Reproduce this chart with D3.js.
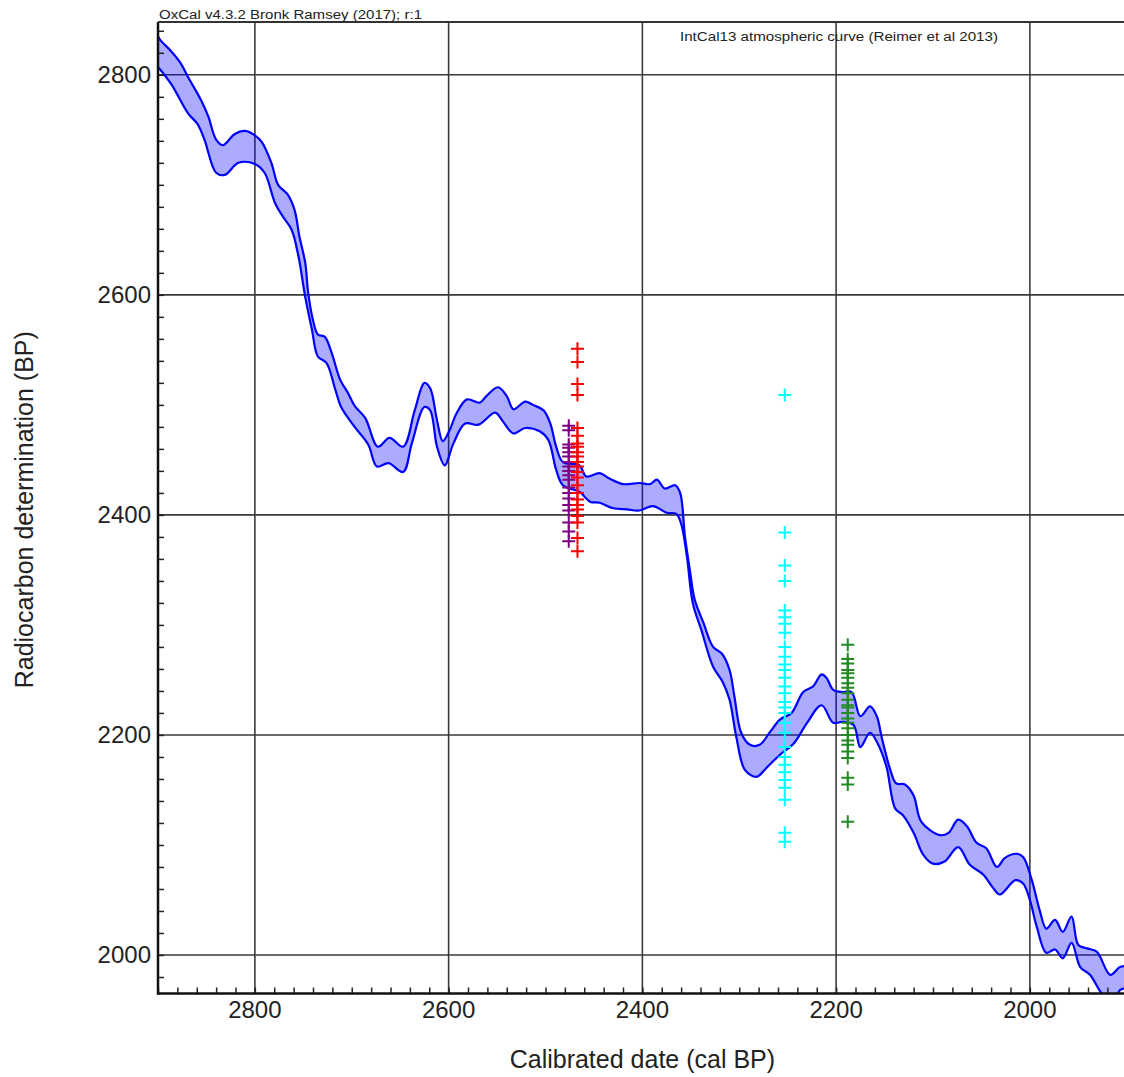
<!DOCTYPE html>
<html>
<head>
<meta charset="utf-8">
<script src="https://cdn.jsdelivr.net/npm/d3@7"></script>
<style>
  body { margin: 0; background: #fff; }
  text { font-family: "Liberation Sans", Arial, sans-serif; fill: #222; }
</style>
</head>
<body>
<div id="wrapper"></div>
<script>
// calibration curve, upper and lower edge of the 1 sigma band: [cal BP, 14C BP]
const upperEdge = [[2900,2835],[2898,2832],[2886,2821],[2877,2811],[2869,2798],[2855,2776],[2848,2762],[2840,2741],[2833,2736],[2821,2746],[2810,2749],[2800,2745],[2793,2739],[2783,2720],[2776,2700],[2766,2691],[2759,2677],[2754,2653],[2748,2629],[2745,2602],[2740,2577],[2735,2564],[2728,2562],[2721,2548],[2712,2523],[2704,2511],[2697,2499],[2686,2488],[2673,2462],[2661,2470],[2647,2462],[2635,2495],[2625,2520],[2619,2515],[2612,2486],[2606,2467],[2599,2477],[2592,2492],[2581,2505],[2568,2502],[2561,2508],[2549,2516],[2540,2508],[2533,2496],[2521,2503],[2513,2500],[2502,2495],[2495,2483],[2489,2462],[2482,2448],[2465,2445],[2458,2435],[2444,2438],[2434,2433],[2420,2428],[2403,2429],[2392,2428],[2385,2432],[2377,2424],[2366,2427],[2361,2420],[2356,2380],[2351,2350],[2346,2323],[2337,2302],[2327,2280],[2318,2274],[2310,2259],[2305,2235],[2298,2202],[2289,2191],[2279,2191],[2268,2203],[2258,2214],[2246,2220],[2234,2239],[2224,2244],[2215,2255],[2210,2252],[2203,2241],[2193,2239],[2184,2239],[2175,2217],[2165,2226],[2158,2217],[2153,2198],[2144,2168],[2138,2156],[2129,2155],[2120,2145],[2112,2121],[2093,2109],[2084,2111],[2074,2123],[2065,2117],[2055,2102],[2045,2097],[2034,2080],[2026,2088],[2014,2092],[2007,2089],[1998,2068],[1990,2041],[1983,2024],[1974,2032],[1966,2021],[1957,2035],[1950,2009],[1941,2006],[1931,2003],[1917,1982],[1907,1989],[1900,1990]];

const lowerEdge = [[2900,2807],[2898,2805],[2886,2791],[2869,2765],[2859,2755],[2852,2741],[2840,2711],[2831,2709],[2817,2720],[2800,2719],[2790,2711],[2779,2683],[2771,2671],[2762,2659],[2755,2635],[2748,2598],[2741,2568],[2735,2544],[2726,2538],[2717,2514],[2711,2498],[2697,2480],[2683,2464],[2674,2444],[2662,2447],[2647,2439],[2638,2465],[2625,2498],[2619,2495],[2612,2462],[2604,2445],[2595,2465],[2583,2483],[2569,2482],[2552,2493],[2544,2485],[2533,2474],[2521,2479],[2506,2476],[2497,2468],[2489,2441],[2482,2427],[2465,2421],[2454,2412],[2444,2411],[2430,2406],[2416,2405],[2403,2404],[2389,2408],[2375,2402],[2365,2401],[2360,2392],[2354,2362],[2348,2320],[2339,2295],[2327,2262],[2317,2248],[2310,2232],[2303,2198],[2294,2168],[2282,2162],[2272,2170],[2258,2182],[2244,2192],[2230,2211],[2215,2227],[2203,2211],[2193,2212],[2182,2209],[2175,2189],[2165,2202],[2157,2192],[2148,2171],[2139,2133],[2131,2127],[2120,2111],[2110,2091],[2100,2083],[2088,2085],[2074,2098],[2062,2082],[2048,2073],[2038,2061],[2031,2055],[2015,2068],[2007,2065],[2000,2050],[1993,2026],[1983,2002],[1974,2005],[1966,1997],[1957,2011],[1948,1989],[1938,1982],[1926,1965],[1915,1955],[1907,1968],[1900,1970]];

// sample groups: colour, cal BP position, radiocarbon determinations
const sampleColours = ["#800080", "#ff0000", "#00ffff", "#228b22"];
const sampleCalBP = [2476, 2467, 2253, 2188];
const sampleDates = [
  [2481,2477,2464,2461,2457,2453,2448,2444,2440,2436,2432,2425,2420,2415,2409,2404,2393,2385,2376],
  [2551,2539,2519,2509,2479,2472,2465,2462,2457,2453,2448,2444,2439,2434,2427,2420,2414,2409,2405,2399,2393,2379,2367],
  [2509,2384,2354,2340,2313,2307,2301,2293,2280,2271,2264,2259,2252,2244,2238,2230,2225,2220,2211,2202,2189,2180,2173,2166,2159,2152,2141,2111,2103],
  [2282,2269,2265,2259,2256,2252,2247,2243,2238,2232,2227,2225,2220,2215,2211,2206,2200,2195,2191,2185,2179,2161,2155,2121]
];

const xTickLabels = [2800, 2600, 2400, 2200, 2000];
const yTickLabels = [2000, 2200, 2400, 2600, 2800];

const width = 1124, height = 1077;
const plot = { left: 158, right: 1126.75, top: 22, bottom: 993.5 };

const x = d3.scaleLinear().domain([2900, 1900]).range([plot.left, plot.right]);
const y = d3.scaleLinear().domain([1965, 2848]).range([plot.bottom, plot.top]);

const svg = d3.select("#wrapper")
  .append("svg")
  .attr("width", width)
  .attr("height", height);

svg.append("clipPath").attr("id", "plotclip")
  .append("rect")
  .attr("x", plot.left).attr("y", plot.top)
  .attr("width", plot.right - plot.left).attr("height", plot.bottom - plot.top);

// grid
svg.append("g").selectAll("line")
  .data(xTickLabels)
  .join("line")
  .attr("x1", d => x(d)).attr("x2", d => x(d))
  .attr("y1", plot.top).attr("y2", plot.bottom)
  .attr("stroke", "#3a3a3a").attr("stroke-width", 1.6);
svg.append("g").selectAll("line")
  .data(yTickLabels)
  .join("line")
  .attr("x1", plot.left).attr("x2", plot.right)
  .attr("y1", d => y(d)).attr("y2", d => y(d))
  .attr("stroke", "#3a3a3a").attr("stroke-width", 1.6);

// curve band
const line = d3.line()
  .x(d => x(d[0]))
  .y(d => y(d[1]))
  .curve(d3.curveCatmullRom.alpha(0.5));

const curveG = svg.append("g").attr("clip-path", "url(#plotclip)");
const lowerRev = lowerEdge.slice().reverse();
curveG.append("path")
  .attr("d", line(upperEdge) + "L" + line(lowerRev).slice(1) + "Z")
  .attr("fill", "rgba(0,0,255,0.33)")
  .attr("stroke", "none");
[upperEdge, lowerEdge].forEach(edge => {
  curveG.append("path")
    .attr("d", line(edge))
    .attr("fill", "none")
    .attr("stroke", "#0000ff")
    .attr("stroke-width", 2.2);
});

// sample crosses
sampleDates.forEach((dates, i) => {
  svg.append("g").selectAll("path")
    .data(dates)
    .join("path")
    .attr("transform", d => `translate(${x(sampleCalBP[i])},${y(d)})`)
    .attr("d", "M-6.5,0H6.5M0,-6.5V6.5")
    .attr("stroke", sampleColours[i])
    .attr("stroke-width", 2)
    .attr("fill", "none");
});

// minor ticks (inside)
const xAxisG = svg.append("g").attr("transform", `translate(0,${plot.bottom})`);
xAxisG.call(d3.axisBottom(x)
  .tickValues(d3.range(1900, 2901, 20))
  .tickSize(-6)
  .tickFormat(""));
const yAxisG = svg.append("g").attr("transform", `translate(${plot.left},0)`);
yAxisG.call(d3.axisLeft(y)
  .tickValues(d3.range(1980, 2841, 20))
  .tickSize(-6)
  .tickFormat(""));
svg.selectAll(".domain").remove();
svg.selectAll(".tick line").attr("stroke", "#222").attr("stroke-width", 1.5);

// frame
svg.append("line")
  .attr("x1", plot.left).attr("x2", plot.left)
  .attr("y1", plot.top).attr("y2", plot.bottom + 1)
  .attr("stroke", "#111").attr("stroke-width", 2.5);
svg.append("line")
  .attr("x1", plot.left - 1).attr("x2", width)
  .attr("y1", plot.bottom).attr("y2", plot.bottom)
  .attr("stroke", "#111").attr("stroke-width", 2.5);
svg.append("line")
  .attr("x1", plot.left).attr("x2", width)
  .attr("y1", plot.top).attr("y2", plot.top)
  .attr("stroke", "#333").attr("stroke-width", 2);

// tick labels
svg.append("g").selectAll("text")
  .data(xTickLabels)
  .join("text")
  .attr("x", d => x(d))
  .attr("y", plot.bottom + 24)
  .attr("text-anchor", "middle")
  .style("font-size", "24px")
  .text(d => d);
svg.append("g").selectAll("text")
  .data(yTickLabels)
  .join("text")
  .attr("x", plot.left - 7)
  .attr("y", d => y(d) + 8.5)
  .attr("text-anchor", "end")
  .style("font-size", "24px")
  .text(d => d);

// titles
svg.append("text")
  .attr("x", (plot.left + plot.right) / 2)
  .attr("y", 1068)
  .attr("text-anchor", "middle")
  .style("font-size", "25px")
  .text("Calibrated date (cal BP)");
svg.append("text")
  .attr("transform", `translate(33,${(plot.top + plot.bottom) / 2 + 2}) rotate(-90)`)
  .attr("text-anchor", "middle")
  .style("font-size", "25px")
  .text("Radiocarbon determination (BP)");

svg.append("text")
  .attr("x", 159)
  .attr("y", 19)
  .attr("textLength", 263)
  .attr("lengthAdjust", "spacingAndGlyphs")
  .style("font-size", "12.5px")
  .text("OxCal v4.3.2 Bronk Ramsey (2017); r:1");
svg.append("text")
  .attr("x", 680)
  .attr("y", 41)
  .attr("textLength", 318)
  .attr("lengthAdjust", "spacingAndGlyphs")
  .style("font-size", "12.5px")
  .text("IntCal13 atmospheric curve (Reimer et al 2013)");
</script>
</body>
</html>
